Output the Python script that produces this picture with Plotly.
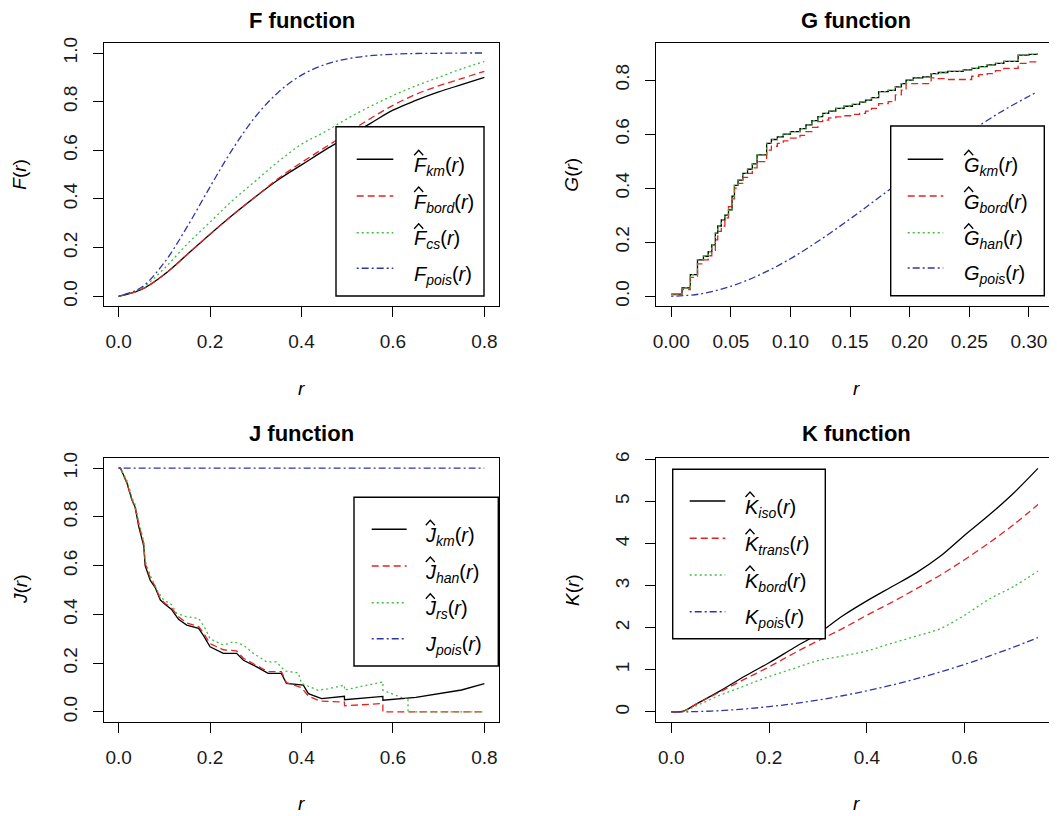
import plotly.graph_objects as go

# the page body adds an 8px margin, so the figure is drawn 8px down/right
OFF = 8
W, H = 1057 - OFF, 816 - OFF

# ---------------- data ----------------
F_r = [0, 0.05, 0.1, 0.15, 0.2, 0.25, 0.3, 0.35, 0.4, 0.45, 0.5, 0.55, 0.6, 0.65, 0.7, 0.75, 0.8]
F_km = [0, 0.028, 0.09, 0.172, 0.255, 0.335, 0.41, 0.48, 0.54, 0.6, 0.655, 0.71, 0.765, 0.805, 0.84, 0.87, 0.9]
F_bord = [0, 0.028, 0.09, 0.172, 0.255, 0.335, 0.41, 0.485, 0.55, 0.61, 0.67, 0.73, 0.785, 0.83, 0.865, 0.895, 0.925]
F_cs = [0, 0.033, 0.115, 0.215, 0.305, 0.395, 0.475, 0.555, 0.625, 0.675, 0.73, 0.78, 0.825, 0.865, 0.9, 0.935, 0.965]
F_pois = [0, 0.037, 0.139, 0.286, 0.45, 0.607, 0.74, 0.84, 0.909, 0.952, 0.976, 0.989, 0.995, 0.998, 0.999, 1.0, 1.0]

G_r = [0, 0.009, 0.016, 0.022, 0.027, 0.031, 0.034, 0.037, 0.039, 0.042, 0.045, 0.048, 0.051, 0.053, 0.056,
       0.060, 0.064, 0.068, 0.072, 0.080, 0.084, 0.089, 0.094, 0.100, 0.108, 0.113, 0.118, 0.123, 0.127, 0.132,
       0.138, 0.145, 0.152, 0.158, 0.163, 0.168, 0.174, 0.182, 0.188, 0.193, 0.197, 0.203, 0.211, 0.218, 0.224,
       0.232, 0.245, 0.252, 0.258, 0.265, 0.272, 0.279, 0.291, 0.300, 0.307]
G_km = [0.008, 0.031, 0.08, 0.135, 0.148, 0.165, 0.19, 0.234, 0.26, 0.283, 0.30, 0.32, 0.37, 0.41, 0.43,
        0.455, 0.47, 0.49, 0.523, 0.566, 0.58, 0.59, 0.60, 0.609, 0.62, 0.634, 0.65, 0.665, 0.677, 0.685,
        0.695, 0.703, 0.71, 0.718, 0.726, 0.735, 0.757, 0.762, 0.775, 0.787, 0.80, 0.808, 0.812, 0.824, 0.828,
        0.832, 0.838, 0.843, 0.85, 0.856, 0.862, 0.869, 0.892, 0.895, 0.898]
G_bord = [0.006, 0.025, 0.07, 0.12, 0.135, 0.15, 0.17, 0.209, 0.24, 0.26, 0.29, 0.332, 0.36, 0.40, 0.418,
          0.44, 0.455, 0.475, 0.498, 0.541, 0.555, 0.566, 0.575, 0.585, 0.595, 0.609, 0.625, 0.646, 0.652, 0.66,
          0.664, 0.668, 0.673, 0.677, 0.685, 0.695, 0.713, 0.72, 0.745, 0.763, 0.787, 0.787, 0.787, 0.808, 0.805,
          0.802, 0.802, 0.814, 0.82, 0.824, 0.835, 0.843, 0.862, 0.867, 0.875]
G_han = [0.008, 0.031, 0.08, 0.135, 0.148, 0.165, 0.19, 0.234, 0.26, 0.283, 0.30, 0.32, 0.37, 0.41, 0.43,
         0.455, 0.47, 0.49, 0.523, 0.566, 0.58, 0.59, 0.60, 0.609, 0.62, 0.634, 0.65, 0.665, 0.677, 0.685,
         0.695, 0.703, 0.71, 0.718, 0.726, 0.735, 0.757, 0.762, 0.775, 0.787, 0.80, 0.808, 0.812, 0.824, 0.828,
         0.832, 0.838, 0.843, 0.85, 0.856, 0.862, 0.869, 0.892, 0.895, 0.898]
G_pois_r = [0, 0.025, 0.05, 0.075, 0.1, 0.125, 0.15, 0.175, 0.2, 0.225, 0.25, 0.275, 0.3, 0.307]
G_pois = [0, 0.009, 0.037, 0.081, 0.139, 0.209, 0.286, 0.368, 0.45, 0.532, 0.607, 0.678, 0.74, 0.756]

J_km_r = [0, 0.004, 0.018, 0.029, 0.036, 0.044, 0.055, 0.058, 0.069, 0.080, 0.091, 0.102, 0.116, 0.131, 0.149,
          0.175, 0.185, 0.200, 0.229, 0.258, 0.273, 0.302, 0.327, 0.356, 0.367, 0.404, 0.415, 0.444, 0.494, 0.494,
          0.578, 0.578, 0.65, 0.70, 0.75, 0.80]
J_km = [1.0, 1.0, 0.94, 0.87, 0.84, 0.76, 0.68, 0.60, 0.54, 0.51, 0.46, 0.44, 0.42, 0.38, 0.356,
        0.343, 0.315, 0.267, 0.24, 0.24, 0.212, 0.185, 0.158, 0.158, 0.117, 0.11, 0.075, 0.055, 0.064, 0.05,
        0.064, 0.048, 0.06, 0.075, 0.09, 0.116]
J_han_r = [0, 0.004, 0.018, 0.029, 0.036, 0.044, 0.055, 0.058, 0.069, 0.080, 0.091, 0.102, 0.116, 0.131, 0.149,
           0.175, 0.185, 0.200, 0.229, 0.258, 0.273, 0.302, 0.327, 0.356, 0.367, 0.40, 0.415, 0.44, 0.494, 0.494,
           0.578, 0.578, 0.80]
J_han = [1.0, 1.0, 0.94, 0.87, 0.84, 0.77, 0.69, 0.61, 0.55, 0.515, 0.465, 0.445, 0.425, 0.39, 0.365,
         0.35, 0.325, 0.28, 0.255, 0.25, 0.22, 0.19, 0.165, 0.165, 0.12, 0.10, 0.065, 0.045, 0.04, 0.025,
         0.035, 0.0, 0.0]
J_rs_r = [0, 0.004, 0.018, 0.029, 0.036, 0.044, 0.055, 0.058, 0.069, 0.084, 0.098, 0.116, 0.127, 0.149, 0.175,
          0.189, 0.200, 0.229, 0.251, 0.273, 0.295, 0.324, 0.345, 0.364, 0.393, 0.40, 0.436, 0.458, 0.494, 0.494,
          0.578, 0.578, 0.604, 0.625, 0.633, 0.633, 0.80]
J_rs = [1.0, 1.0, 0.95, 0.88, 0.85, 0.78, 0.70, 0.62, 0.56, 0.50, 0.46, 0.44, 0.404, 0.39, 0.384,
        0.343, 0.30, 0.274, 0.288, 0.274, 0.24, 0.205, 0.205, 0.168, 0.16, 0.117, 0.089, 0.095, 0.11, 0.09,
        0.123, 0.089, 0.07, 0.055, 0.06, 0.0, 0.0]
J_pois_r = [0, 0.8]
J_pois = [1.0, 1.0]

K_r = [0, 0.025, 0.05, 0.1, 0.15, 0.2, 0.25, 0.3, 0.35, 0.4, 0.45, 0.5, 0.55, 0.6, 0.65, 0.7, 0.75]
K_iso = [0, 0.02, 0.18, 0.5, 0.85, 1.17, 1.52, 1.86, 2.28, 2.64, 2.97, 3.3, 3.7, 4.2, 4.68, 5.2, 5.79]
K_trans = [0, 0.02, 0.18, 0.48, 0.78, 1.07, 1.39, 1.69, 1.98, 2.3, 2.6, 2.92, 3.25, 3.62, 4.02, 4.45, 4.93]
K_bord = [0, 0.02, 0.14, 0.4, 0.62, 0.84, 1.03, 1.22, 1.33, 1.45, 1.63, 1.8, 1.98, 2.3, 2.68, 2.98, 3.35]
K_pois = [0, 0.002, 0.008, 0.031, 0.071, 0.126, 0.196, 0.283, 0.385, 0.503, 0.636, 0.785, 0.95, 1.131, 1.327, 1.539, 1.767]

F_xticks = [0, 0.2, 0.4, 0.6, 0.8]
F_xlabels = ["0.0", "0.2", "0.4", "0.6", "0.8"]
F_yticks = [0, 0.2, 0.4, 0.6, 0.8, 1.0]
F_ylabels = ["0.0", "0.2", "0.4", "0.6", "0.8", "1.0"]
G_xticks = [0, 0.05, 0.1, 0.15, 0.2, 0.25, 0.3]
G_xlabels = ["0.00", "0.05", "0.10", "0.15", "0.20", "0.25", "0.30"]
G_yticks = [0, 0.2, 0.4, 0.6, 0.8]
G_ylabels = ["0.0", "0.2", "0.4", "0.6", "0.8"]
K_xticks = [0, 0.2, 0.4, 0.6]
K_xlabels = ["0.0", "0.2", "0.4", "0.6"]
K_yticks = [0, 1, 2, 3, 4, 5, 6]
K_ylabels = ["0", "1", "2", "3", "4", "5", "6"]

# ---------------- style ----------------
BLACK = "#000000"
RED = "#E02424"
GREEN = "#3DBE3D"
BLUE = "#2E36A6"
SOLID = "solid"
DASH = "7px,4px"
DOT = "2px,3px"
DOTDASH = "2px,3px,7px,3px"
FONT = "Liberation Sans, Arial, sans-serif"
LW = 1.3

fig = go.Figure()


def px_x(x):
    return (x - OFF) / W


def px_y(y):
    return 1 - (y - OFF) / H


panels = {
    "F": dict(ax="", box=(104, 43.3, 499, 306), xr=[-0.032, 0.832], yr=[-0.04, 1.04],
              xt=F_xticks, xl=F_xlabels, yt=F_yticks, yl=F_ylabels),
    "G": dict(ax="2", box=(656, 43.3, 1057, 306), xr=[-0.0128, 0.3236], yr=[-0.036, 0.936],
              xt=G_xticks, xl=G_xlabels, yt=G_yticks, yl=G_ylabels),
    "J": dict(ax="3", box=(104, 458.3, 499, 721.7), xr=[-0.032, 0.832], yr=[-0.04, 1.04],
              xt=F_xticks, xl=F_xlabels, yt=F_yticks, yl=F_ylabels),
    "K": dict(ax="4", box=(656, 458.3, 1057, 721.7), xr=[-0.0313, 0.789], yr=[-0.232, 6.03],
              xt=K_xticks, xl=K_xlabels, yt=K_yticks, yl=K_ylabels),
}

series = {
    "F": [(F_r, F_km, BLACK, SOLID, "spline"), (F_r, F_bord, RED, DASH, "spline"),
          (F_r, F_cs, GREEN, DOT, "spline"), (F_r, F_pois, BLUE, DOTDASH, "spline")],
    "G": [(G_r, G_km, BLACK, SOLID, "hv"), (G_r, G_bord, RED, DASH, "hv"),
          (G_r, G_han, GREEN, DOT, "hv"), (G_pois_r, G_pois, BLUE, DOTDASH, "spline")],
    "J": [(J_km_r, J_km, BLACK, SOLID, "linear"), (J_han_r, J_han, RED, DASH, "linear"),
          (J_rs_r, J_rs, GREEN, DOT, "linear"), (J_pois_r, J_pois, BLUE, DOTDASH, "linear")],
    "K": [(K_r, K_iso, BLACK, SOLID, "spline"), (K_r, K_trans, RED, DASH, "spline"),
          (K_r, K_bord, GREEN, DOT, "spline"), (K_r, K_pois, BLUE, DOTDASH, "spline")],
}

titles = {"F": "F function", "G": "G function", "J": "J function", "K": "K function"}
ylabels = {"F": "<i>F</i>(<i>r</i>)", "G": "<i>G</i>(<i>r</i>)", "J": "<i>J</i>(<i>r</i>)", "K": "<i>K</i>(<i>r</i>)"}

legend_labels = {
    "F": [("F", "km", True), ("F", "bord", True), ("F", "cs", True), ("F", "pois", False)],
    "G": [("G", "km", True), ("G", "bord", True), ("G", "han", True), ("G", "pois", False)],
    "J": [("J", "km", True), ("J", "han", True), ("J", "rs", True), ("J", "pois", False)],
    "K": [("K", "iso", True), ("K", "trans", True), ("K", "bord", True), ("K", "pois", False)],
}
legend_geom = {
    "F": dict(box=(336, 126.7, 484, 296), lx=(356.7, 393.3), tx=411.7, rows=[159.3, 196, 232.7, 268.3]),
    "G": dict(box=(890.7, 126, 1044.3, 295.7), lx=(907.7, 943.3), tx=961.7, rows=[159.3, 196, 232.7, 268]),
    "J": dict(box=(354, 497.3, 498.3, 666), lx=(371.7, 406.7), tx=423.3, rows=[529.3, 566, 602.7, 638.7]),
    "K": dict(box=(672.7, 469.3, 825.3, 638.7), lx=(689.7, 725.3), tx=743, rows=[501, 538.3, 575, 611.7]),
}
legend_styles = [(BLACK, SOLID), (RED, DASH), (GREEN, DOT), (BLUE, DOTDASH)]

layout = dict(width=W, height=H, margin=dict(l=0, r=0, t=0, b=0, autoexpand=False), paper_bgcolor="white",
              plot_bgcolor="white", showlegend=False)
annotations = []
shapes = []

for key, p in panels.items():
    l, t, r, b = p["box"]
    ax = p["ax"]
    xa = "xaxis" + ax
    ya = "yaxis" + ax
    axis_common = dict(showgrid=False, zeroline=False, showline=True, mirror=True, linecolor=BLACK,
                       linewidth=1.4, ticks="outside", ticklen=10, tickwidth=1.2, tickcolor=BLACK,
                       tickfont=dict(family=FONT, size=19, color="#1a1a1a"), fixedrange=True,
                       automargin=False)
    layout[xa] = dict(axis_common, domain=[px_x(l), min(1.0, px_x(r))], range=p["xr"], tickvals=p["xt"],
                      ticktext=p["xl"], anchor="y" + ax, ticklabelstandoff=8)
    layout[ya] = dict(axis_common, domain=[px_y(b), px_y(t)], range=p["yr"], tickvals=p["yt"],
                      ticktext=p["yl"], anchor="x" + ax, tickangle=-90, ticklabelstandoff=8)
    for (xs, ys, col, dash, shape) in series[key]:
        fig.add_trace(go.Scatter(x=xs, y=ys, mode="lines", xaxis="x" + ax, yaxis="y" + ax,
                                 line=dict(color=col, width=LW, dash=dash, shape=shape),
                                 hoverinfo="skip"))
    cx = (l + r) / 2
    if key in ("G", "K"):
        cx = (l + 1056) / 2
    ttl_y = 20 if t < 100 else 433.3
    annotations.append(dict(text="<b>%s</b>" % titles[key], x=px_x(cx), y=px_y(ttl_y), xref="paper",
                            yref="paper", showarrow=False, xanchor="center", yanchor="middle", borderpad=0,
                            font=dict(family=FONT, size=22, color=BLACK)))
    annotations.append(dict(text="<i>r</i>", x=px_x(cx), y=px_y(b + 82), xref="paper", yref="paper",
                            showarrow=False, xanchor="center", yanchor="middle",
                            font=dict(family=FONT, size=19, color=BLACK)))
    annotations.append(dict(text=ylabels[key], x=px_x(l - 84), y=px_y((t + b) / 2), xref="paper",
                            yref="paper", showarrow=False, xanchor="center", yanchor="middle", textangle=-90,
                            font=dict(family=FONT, size=19, color=BLACK)))
    # legend
    g = legend_geom[key]
    bl, bt, br, bb = g["box"]
    shapes.append(dict(type="rect", xref="paper", yref="paper", x0=px_x(bl), x1=px_x(br), y0=px_y(bb),
                       y1=px_y(bt), line=dict(color=BLACK, width=1.4), fillcolor="white", layer="above"))
    for (letter, sub, hat), (col, dash), ry in zip(legend_labels[key], legend_styles, g["rows"]):
        shapes.append(dict(type="line", xref="paper", yref="paper", x0=px_x(g["lx"][0]), x1=px_x(g["lx"][1]),
                           y0=px_y(ry), y1=px_y(ry), line=dict(color=col, width=LW + 0.2, dash=dash),
                           layer="above"))
        annotations.append(dict(text="<i>%s</i><sub><i>%s</i></sub>(<i>r</i>)" % (letter, sub),
                                x=px_x(g["tx"]), y=px_y(ry + 7), xref="paper", yref="paper", showarrow=False,
                                xanchor="left", yanchor="middle", font=dict(family=FONT, size=20, color=BLACK)))
        if hat:
            hx = g["tx"] + 7
            hy = ry - 9
            shapes.append(dict(type="path", xref="paper", yref="paper",
                               path="M %f,%f L %f,%f L %f,%f" % (px_x(hx - 4.5), px_y(hy + 5), px_x(hx), px_y(hy),
                                                                 px_x(hx + 4.5), px_y(hy + 5)),
                               line=dict(color=BLACK, width=1.3), layer="above"))

layout["annotations"] = annotations
layout["shapes"] = shapes
fig.update_layout(**layout)
fig.write_html("out.html")
